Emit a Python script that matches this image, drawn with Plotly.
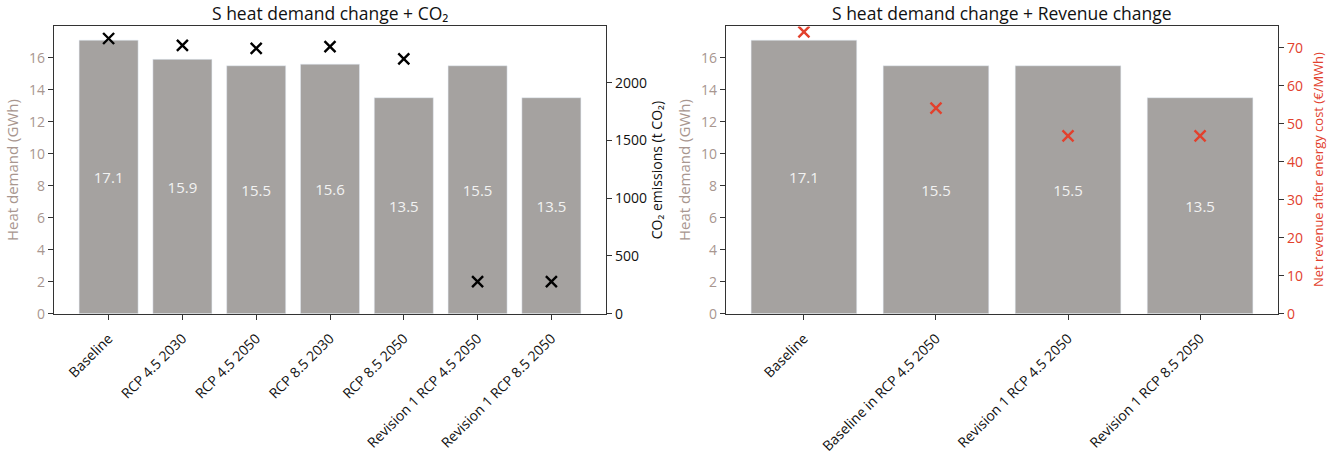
import plotly.graph_objects as go

# ---- data ----
left_categories = ["Baseline", "RCP 4.5 2030", "RCP 4.5 2050", "RCP 8.5 2030",
                   "RCP 8.5 2050", "Revision 1 RCP 4.5 2050", "Revision 1 RCP 8.5 2050"]
left_heat_demand = [17.1, 15.9, 15.5, 15.6, 13.5, 15.5, 13.5]
left_co2 = [2382, 2322, 2297, 2311, 2206, 277, 277]

right_categories = ["Baseline", "Baseline in RCP 4.5 2050",
                    "Revision 1 RCP 4.5 2050", "Revision 1 RCP 8.5 2050"]
right_heat_demand = [17.1, 15.5, 15.5, 13.5]
right_revenue = [74.2, 54.1, 46.8, 46.8]

W, H = 1330, 456
BAR = "#a5a2a0"
HEAT_C = "#a8968f"
RED = "#e2412d"
AX = "#333333"
FONT = "Open Sans"
TICK = 14
TITLE = 17.5

def fx(px):
    return px / W

def fy(py):
    return 1 - py / H

fig = go.Figure()

fig.add_trace(go.Bar(x=left_categories, y=left_heat_demand, marker_color=BAR,
                     width=0.8, text=[f"{v:.1f}" for v in left_heat_demand],
                     textposition="inside", insidetextanchor="middle",
                     textfont=dict(color="#f2f2f2", size=15, family=FONT),
                     xaxis="x", yaxis="y", showlegend=False))
fig.add_trace(go.Scatter(x=left_categories, y=left_co2, mode="markers",
                         marker=dict(symbol="x-thin", size=11, line=dict(width=2.4, color="black")),
                         xaxis="x", yaxis="y2", showlegend=False))

fig.add_trace(go.Bar(x=right_categories, y=right_heat_demand, marker_color=BAR,
                     width=0.8, text=[f"{v:.1f}" for v in right_heat_demand],
                     textposition="inside", insidetextanchor="middle",
                     textfont=dict(color="#f2f2f2", size=15, family=FONT),
                     xaxis="x2", yaxis="y3", showlegend=False))
fig.add_trace(go.Scatter(x=right_categories, y=right_revenue, mode="markers",
                         marker=dict(symbol="x-thin", size=11, line=dict(width=2.4, color=RED)),
                         xaxis="x2", yaxis="y4", showlegend=False))

ydom = [fy(320), fy(27)]
xd1 = [fx(54), fx(606)]
xd2 = [fx(726), fx(1278)]

common_x = dict(showline=True, linecolor=AX, linewidth=1.3, mirror=True, ticks="outside",
                ticklen=5, tickcolor=AX, tickangle=-45, showgrid=False, ticklabelstandoff=5,
                tickfont=dict(size=TICK, color="#111111", family=FONT))
common_y = dict(showline=True, linecolor=AX, linewidth=1.3, ticks="outside", ticklen=5,
                tickcolor=AX, showgrid=False, zeroline=False)

fig.update_layout(
    width=W, height=H, margin=dict(l=0, r=0, t=0, b=0),
    plot_bgcolor="white", paper_bgcolor="white",
    font=dict(family=FONT),
    bargap=0.2,
    xaxis=dict(domain=xd1, anchor="y", range=[-0.74, 6.74], **common_x),
    yaxis=dict(domain=ydom, anchor="x", range=[0, 17.955], dtick=2,
               tickfont=dict(size=TICK, color=HEAT_C, family=FONT),
               title=dict(text="Heat demand (GWh)", font=dict(size=15, color=HEAT_C, family=FONT), standoff=6),
               **common_y),
    yaxis2=dict(overlaying="y", anchor="x", side="right", range=[0, 2486], dtick=500,
                tickfont=dict(size=TICK, color="#111111", family=FONT),
                title=dict(text="CO₂ emissions (t CO₂)", font=dict(size=14, color="#111111", family=FONT), standoff=4),
                **common_y),
    xaxis2=dict(domain=xd2, anchor="y3", range=[-0.59, 3.59], **common_x),
    yaxis3=dict(domain=ydom, anchor="x2", range=[0, 17.955], dtick=2,
                tickfont=dict(size=TICK, color=HEAT_C, family=FONT),
                title=dict(text="Heat demand (GWh)", font=dict(size=15, color=HEAT_C, family=FONT), standoff=6),
                **common_y),
    yaxis4=dict(overlaying="y3", anchor="x2", side="right", range=[0, 75.6], dtick=10,
                tickfont=dict(size=TICK, color=RED, family=FONT),
                **common_y),
    annotations=[
        dict(text="S heat demand change + CO₂", x=(xd1[0] + xd1[1]) / 2, y=fy(13),
             xref="paper", yref="paper", showarrow=False, xanchor="center", yanchor="middle",
             font=dict(size=TITLE, color="#111111", family=FONT)),
        dict(text="S heat demand change + Revenue change", x=(xd2[0] + xd2[1]) / 2, y=fy(13),
             xref="paper", yref="paper", showarrow=False, xanchor="center", yanchor="middle",
             font=dict(size=TITLE, color="#111111", family=FONT)),
        dict(text="Net revenue after energy cost (€/MWh)", x=fx(1318), y=(ydom[0] + ydom[1]) / 2,
             xref="paper", yref="paper", showarrow=False, xanchor="center", yanchor="middle",
             textangle=-90, font=dict(size=13, color=RED, family=FONT)),
    ],
)

fig.write_html("out.html", config={"displayModeBar": False},
               post_script="document.body.style.margin='0';")
